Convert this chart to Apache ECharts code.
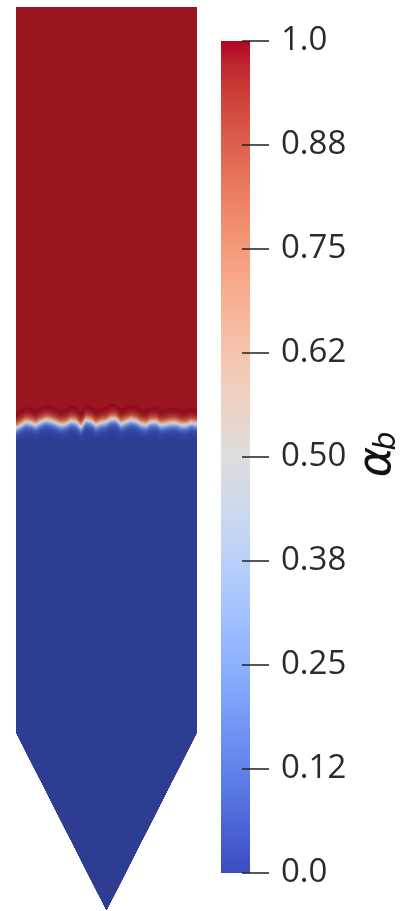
<!DOCTYPE html>
<html>
<head>
<meta charset="utf-8">
<script src="https://cdn.jsdelivr.net/npm/echarts@6/dist/echarts.min.js"></script>
<style>
  html, body { margin: 0; padding: 0; background: #ffffff; }
  #chart { width: 402px; height: 911px; }
</style>
</head>
<body>
<div id="chart"></div>
<script>
// Vessel outline in column-diameter units (x across, y up from the cone apex)
const vesselX = [0, 1, 1, 0.5, 0];
const vesselY = [5.0, 5.0, 0.985, 0, 0.985];

// Height of the alpha_b = 0.5 contour across the column
const interfaceX = [0, 0.028, 0.055, 0.083, 0.110, 0.138, 0.166, 0.193, 0.221, 0.249,
  0.276, 0.304, 0.331, 0.359, 0.387, 0.414, 0.442, 0.470, 0.497, 0.525,
  0.552, 0.580, 0.608, 0.635, 0.663, 0.691, 0.718, 0.746, 0.773, 0.801,
  0.829, 0.856, 0.884, 0.912, 0.939, 0.967, 1.0];
const interfaceH = [2.669, 2.686, 2.702, 2.697, 2.686, 2.702, 2.713, 2.708, 2.697, 2.686,
  2.691, 2.708, 2.702, 2.674, 2.713, 2.708, 2.686, 2.697, 2.702, 2.719,
  2.719, 2.691, 2.702, 2.713, 2.708, 2.691, 2.686, 2.702, 2.702, 2.686,
  2.691, 2.697, 2.697, 2.686, 2.686, 2.697, 2.691];

// Colour bar ticks
const tickValues = [0, 0.125, 0.25, 0.375, 0.5, 0.625, 0.75, 0.875, 1];
const tickLabels = ['0.0', '0.12', '0.25', '0.38', '0.50', '0.62', '0.75', '0.88', '1.0'];

// Cool-to-warm colour map stops [t, r, g, b]
const coolWarm = [
  [0.0, 59, 76, 192], [0.03125, 68, 90, 204], [0.0625, 77, 104, 215], [0.09375, 87, 117, 225],
  [0.125, 98, 130, 234], [0.15625, 108, 142, 241], [0.1875, 119, 154, 247], [0.21875, 130, 165, 251],
  [0.25, 141, 176, 254], [0.28125, 152, 185, 255], [0.3125, 163, 194, 255], [0.34375, 174, 201, 253],
  [0.375, 184, 208, 249], [0.40625, 194, 213, 244], [0.4375, 204, 217, 238], [0.46875, 213, 219, 230],
  [0.5, 221, 221, 221], [0.53125, 229, 216, 209], [0.5625, 236, 211, 197], [0.59375, 241, 204, 185],
  [0.625, 245, 196, 173], [0.65625, 247, 187, 160], [0.6875, 247, 177, 148], [0.71875, 247, 166, 135],
  [0.75, 244, 154, 123], [0.78125, 241, 141, 111], [0.8125, 236, 127, 99], [0.84375, 229, 112, 88],
  [0.875, 222, 96, 77], [0.90625, 213, 80, 66], [0.9375, 203, 62, 56], [0.96875, 192, 40, 47],
  [1.0, 180, 4, 38]
];

function coolWarmRGB(t) {
  t = Math.max(0, Math.min(1, t));
  for (let i = 1; i < coolWarm.length; i++) {
    const a = coolWarm[i - 1], b = coolWarm[i];
    if (t <= b[0]) {
      const f = (t - a[0]) / (b[0] - a[0]);
      return [1, 2, 3].map(k => a[k] + (b[k] - a[k]) * f);
    }
  }
  const last = coolWarm[coolWarm.length - 1];
  return [last[1], last[2], last[3]];
}

// Lit surface colour of the field (slightly darker than the bar)
const FIELD_RED = 'rgb(154,21,32)';
const FIELD_BLUE = 'rgb(45,62,146)';
function fieldColor(t) {
  if (t >= 0.995) return FIELD_RED;
  if (t <= 0.005) return FIELD_BLUE;
  const c = coolWarmRGB(t);
  const shade = 0.8 + 0.14 * (1 - Math.abs(2 * t - 1));
  return 'rgb(' + c.map(v => Math.round(v * shade)).join(',') + ')';
}

const BAND = 16;      // half-width of the mixing zone, px
const BAND_SCALE = 5.5; // sharpness of the tanh profile, px

function renderVessel(params, api) {
  const pt = (x, y) => api.coord([x, y]);
  const pxPerUnit = Math.abs(api.coord([0, 0])[1] - api.coord([0, 1])[1]);
  const children = [];
  children.push({
    type: 'polygon',
    shape: { points: vesselX.map((x, i) => pt(x, vesselY[i])) },
    style: { fill: FIELD_RED }
  });
  for (let d = BAND; d >= -BAND; d--) {
    const a = d === -BAND ? 0 : 0.5 + 0.5 * Math.tanh((d - 0.5) / BAND_SCALE);
    const pts = interfaceX.map((x, i) => pt(x, interfaceH[i] + d / pxPerUnit));
    pts.push(pt(vesselX[2], vesselY[2]), pt(vesselX[3], vesselY[3]), pt(vesselX[4], vesselY[4]));
    children.push({ type: 'polygon', shape: { points: pts }, style: { fill: fieldColor(a) } });
  }
  return { type: 'group', children };
}

const barGradient = new echarts.graphic.LinearGradient(0, 0, 0, 1,
  coolWarm.map(s => ({ offset: 1 - s[0], color: 'rgb(' + s[1] + ',' + s[2] + ',' + s[3] + ')' })).reverse()
);

const chart = echarts.init(document.getElementById('chart'), null, { renderer: 'canvas' });
chart.setOption({
  animation: false,
  backgroundColor: '#ffffff',
  grid: [
    { left: 16, top: 7, width: 181, height: 903 },
    { left: 221, top: 41, width: 29, height: 832 }
  ],
  xAxis: [
    { gridIndex: 0, type: 'value', min: 0, max: 1, show: false },
    { gridIndex: 1, type: 'category', data: ['alpha_b'], show: false }
  ],
  yAxis: [
    { gridIndex: 0, type: 'value', min: 0, max: 5, show: false },
    {
      gridIndex: 1, type: 'value', min: 0, max: 1, interval: 0.125,
      position: 'right', offset: -8, z: 5,
      axisLine: { show: false },
      splitLine: { show: false },
      axisTick: { show: true, length: 27, lineStyle: { color: '#222222', width: 1.5 } },
      axisLabel: {
        margin: 39, color: '#2a2a2a', fontFamily: 'Open Sans', fontSize: 33,
        formatter: v => {
          const i = tickValues.findIndex(t => Math.abs(t - v) < 1e-6);
          return i >= 0 ? tickLabels[i] : '';
        }
      }
    }
  ],
  series: [
    {
      type: 'custom', xAxisIndex: 0, yAxisIndex: 0,
      data: [0], renderItem: renderVessel, silent: true
    },
    {
      type: 'bar', xAxisIndex: 1, yAxisIndex: 1,
      data: [1], barWidth: '100%', silent: true,
      itemStyle: { color: barGradient }
    }
  ],
  graphic: [
    {
      type: 'text', x: 378, y: 462, rotation: Math.PI / 2,
      style: { text: 'α', font: 'italic 46px "DejaVu Sans"', fill: '#111111', align: 'center', verticalAlign: 'middle' }
    },
    {
      type: 'text', x: 387, y: 441, rotation: Math.PI / 2,
      style: { text: 'b', font: 'italic 30px "DejaVu Sans"', fill: '#111111', align: 'center', verticalAlign: 'middle' }
    }
  ]
});
</script>
</body>
</html>
